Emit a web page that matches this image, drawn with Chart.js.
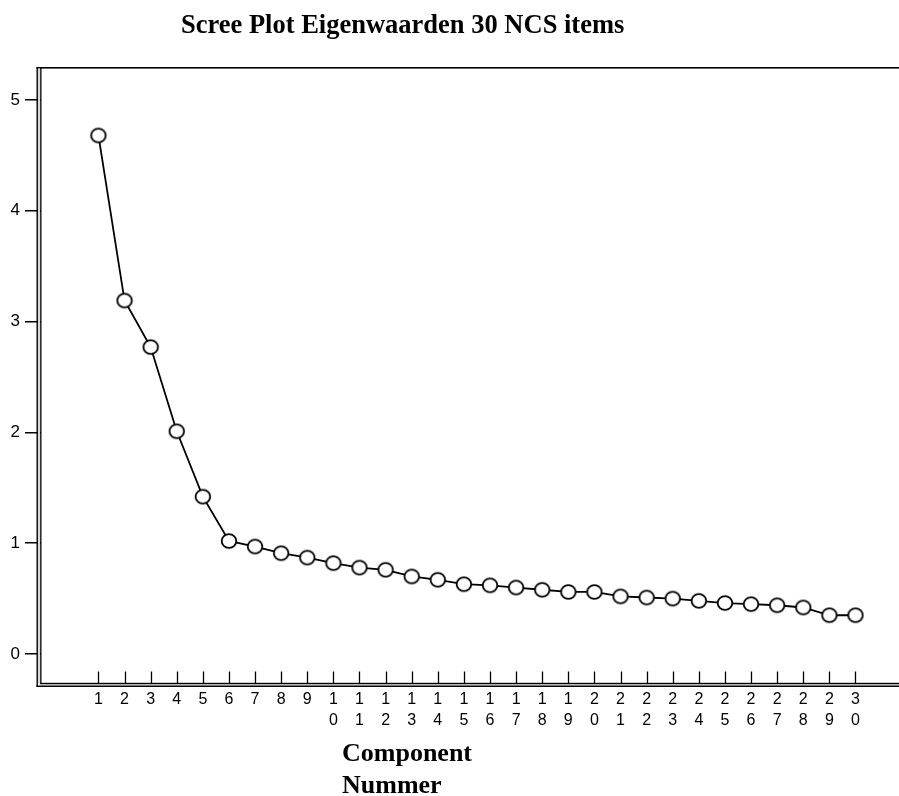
<!DOCTYPE html>
<html><head><meta charset="utf-8">
<style>html,body{margin:0;padding:0;background:#fff}#wrap{width:899px;height:796px;position:relative}</style>
<script src="https://cdn.jsdelivr.net/npm/chart.js@4/dist/chart.umd.min.js"></script>
</head><body><div id="wrap"><canvas id="c" width="899" height="796"></canvas></div>
<script>
const components = [1,2,3,4,5,6,7,8,9,10,11,12,13,14,15,16,17,18,19,20,21,22,23,24,25,26,27,28,29,30];
const eigenvalues = [4.68,3.19,2.77,2.01,1.42,1.02,0.97,0.91,0.87,0.82,0.78,0.76,0.70,0.67,0.63,0.62,0.60,0.58,0.56,0.56,0.52,0.51,0.50,0.48,0.46,0.45,0.44,0.42,0.35,0.35];
const yTicks = [0,1,2,3,4,5];
const titleText = 'Scree Plot Eigenwaarden 30 NCS items';
const xTitleLines = ['Component','Nummer'];

// ellipse marker
const mk = document.createElement('canvas');
mk.width = 18; mk.height = 18;
(function(){
  const g = mk.getContext('2d');
  g.beginPath();
  g.ellipse(9, 9, 7.3, 6.9, 0, 0, Math.PI*2);
  g.fillStyle = '#ffffff'; g.fill();
  g.lineWidth = 1.8; g.strokeStyle = '#000'; g.stroke();
})();

const framePlugin = {
  id: 'frame',
  afterDraw(chart) {
    const ctx = chart.ctx;
    const xs = chart.scales.x;
    ctx.save();
    ctx.fillStyle = '#000';
    // top border
    ctx.fillRect(36.5, 67, 899 - 36.5, 1.6);
    // gray fill between double lines
    ctx.fillStyle = '#d9d9d9';
    ctx.fillRect(37.8, 68.6, 2.4, 615);
    ctx.fillRect(40, 684.2, 859, 1.2);
    ctx.fillStyle = '#000';
    // outer left + outer bottom
    ctx.fillRect(36.5, 67, 1.4, 620);
    ctx.fillRect(36.5, 685.5, 899 - 36.5, 1.5);
    // inner left + inner bottom
    ctx.fillRect(40.2, 67, 1.3, 616.8);
    ctx.fillRect(40.2, 682.8, 899 - 40.2, 1.4);
    // x tick marks (inward)
    ctx.strokeStyle = '#000';
    ctx.lineWidth = 1.3;
    components.forEach(v => {
      const px = Math.round(xs.getPixelForValue(v)) + 0.5;
      ctx.beginPath();
      ctx.moveTo(px, 671.5);
      ctx.lineTo(px, 683);
      ctx.stroke();
    });
    // title
    ctx.fillStyle = '#000';
    ctx.textBaseline = 'alphabetic';
    ctx.textAlign = 'left';
    ctx.font = 'bold 26.5px "Liberation Serif", "Times New Roman", serif';
    ctx.fillText(titleText, 181, 33);
    // x axis title
    ctx.font = 'bold 26px "Liberation Serif", "Times New Roman", serif';
    ctx.fillText(xTitleLines[0], 342, 761);
    ctx.fillText(xTitleLines[1], 342, 793);
    ctx.restore();
  }
};

new Chart(document.getElementById('c'), {
  type: 'line',
  data: {
    datasets: [{
      data: components.map((c, i) => ({x: c, y: eigenvalues[i]})),
      borderColor: '#000',
      borderWidth: 1.8,
      pointStyle: mk,
      pointRadius: 7,
      tension: 0,
      fill: false
    }]
  },
  options: {
    responsive: false,
    devicePixelRatio: 1,
    animation: false,
    layout: { padding: { top: 68, left: 0, right: 0, bottom: 0 } },
    plugins: { legend: { display: false }, tooltip: { enabled: false }, title: { display: false } },
    scales: {
      x: {
        type: 'linear',
        min: -1.2,
        max: 31.33,
        afterBuildTicks: s => { s.ticks = components.map(v => ({ value: v })); },
        afterFit: s => { s.height = 796 - 684; },
        grid: { display: false, drawTicks: false, tickLength: 0 },
        border: { display: false },
        ticks: {
          autoSkip: false,
          maxRotation: 0,
          minRotation: 0,
          padding: 5,
          color: '#000',
          font: { family: '"Liberation Sans", Arial, sans-serif', size: 16, lineHeight: 1.3 },
          callback: v => { const s = String(v); return s.length > 1 ? s.split('') : s; }
        }
      },
      y: {
        type: 'linear',
        min: -0.2705,
        max: 5.2886,
        afterBuildTicks: s => { s.ticks = yTicks.map(v => ({ value: v })); },
        afterFit: s => { s.width = 41; },
        grid: { display: true, drawOnChartArea: false, drawTicks: true, tickLength: 16, color: '#000', lineWidth: 1.5 },
        border: { display: false },
        ticks: {
          padding: 5,
          color: '#000',
          font: { family: '"Liberation Sans", Arial, sans-serif', size: 17 },
          callback: v => String(v)
        }
      }
    }
  },
  plugins: [framePlugin]
});
</script>
</body></html>
